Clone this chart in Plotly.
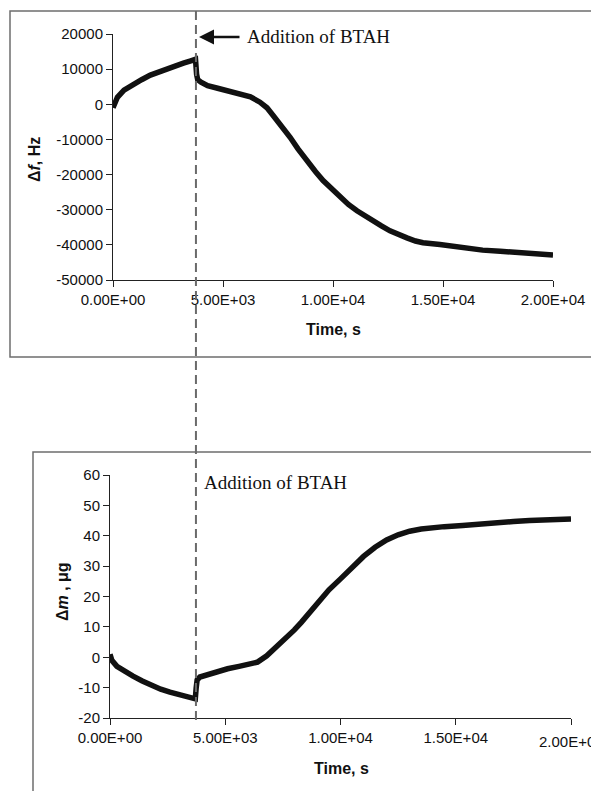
import plotly.graph_objects as go

W, H = 591, 791

t_top = [0, 50, 200, 500, 900, 1300, 1700, 2100, 2500, 2900, 3200, 3500, 3750,
         3800, 3850, 4000, 4300, 4800, 5300, 5800, 6250, 6680, 7000, 7270, 7650,
         8050, 8400, 8800, 9200, 9550, 10000, 10320, 10700, 11090, 11450, 11820,
         12200, 12590, 13000, 13360, 13750, 14090, 14860, 15500, 16100, 16800,
         17600, 18300, 19100, 20000]
df_top = [-1000, 0, 2000, 4000, 5600, 7000, 8300, 9300, 10100, 10900, 11700, 12300, 12800,
          8500, 7000, 6300, 5300, 4500, 3800, 3100, 2100, 600, -1000, -3100, -6000,
          -9400, -12600, -16000, -19100, -21700, -24500, -26500, -28500, -30300, -31800, -33100,
          -34600, -36000, -37200, -38000, -38900, -39400, -39900, -40500, -41100, -41500,
          -41800, -42100, -42500, -42900]

t_bot = [0, 80, 300, 600, 1000, 1400, 1800, 2200, 2600, 3000, 3400, 3700,
         3740, 3780, 3900, 4200, 4600, 5100, 5600, 6100, 6400, 6800, 7200, 7600,
         8000, 8300, 8700, 9100, 9500, 10000, 10500, 11000, 11500, 12000, 12500,
         13000, 13500, 14000, 14500, 15300, 16000, 16800, 17500, 18200, 19000, 20000]
dm_bot = [1, -1, -3, -4.5, -6.2, -7.8, -9.2, -10.5, -11.5, -12.4, -13.1, -13.7,
          -10, -7.5, -6.5, -5.8, -4.8, -3.8, -3.0, -2.3, -1.6, 0.5, 3.2, 6.0,
          9.0, 11.5, 15, 18.8, 22.2, 25.8, 29.8, 33.2, 36.2, 38.6, 40.3,
          41.5, 42.2, 42.7, 43.0, 43.4, 43.9, 44.3, 44.7, 45.0, 45.2, 45.5]

t_add = 3770

x_tickvals = [0, 5000, 10000, 15000, 20000]
x_ticktext = ["0.00E+00", "5.00E+03", "1.00E+04", "1.50E+04", "2.00E+04"]
y_top_ticks = [20000, 10000, 0, -10000, -20000, -30000, -40000, -50000]
y_top_text = ["20000", "10000", "0", "-10000", "-20000", "-30000", "-40000", "-50000"]
y_bot_ticks = [60, 50, 40, 30, 20, 10, 0, -10, -20]
y_bot_text = ["60", "50", "40", "30", "20", "10", "0", "-10", "-20"]


def px(x):
    return x / W


def py(y):
    return 1 - y / H


fig = go.Figure()
fig.add_trace(go.Scatter(x=t_top, y=df_top, mode="lines", xaxis="x", yaxis="y",
                         line=dict(color="#111111", width=5.5), showlegend=False))
fig.add_trace(go.Scatter(x=t_bot, y=dm_bot, mode="lines", xaxis="x2", yaxis="y2",
                         line=dict(color="#111111", width=5.5), showlegend=False))

tickfont = dict(family="Liberation Sans, Arial", size=15, color="#111111")
axcommon = dict(showgrid=False, zeroline=False, showline=True, linecolor="#222222",
                linewidth=1, ticks="outside", ticklen=6, tickcolor="#222222",
                tickfont=tickfont, automargin=False)

fig.update_layout(
    width=W, height=H, margin=dict(l=0, r=0, t=0, b=0, pad=0, autoexpand=False),
    paper_bgcolor="white", plot_bgcolor="white",
    xaxis=dict(domain=[px(113), px(553)], range=[0, 20000], anchor="y",
               tickvals=x_tickvals, ticktext=x_ticktext, **axcommon),
    yaxis=dict(domain=[py(280), py(34)], range=[-50000, 20000], anchor="x",
               tickvals=y_top_ticks, ticktext=y_top_text, **axcommon),
    xaxis2=dict(domain=[px(110), px(571)], range=[0, 20000], anchor="y2",
                tickvals=x_tickvals, ticktext=x_ticktext, **axcommon),
    yaxis2=dict(domain=[py(718), py(475)], range=[-20, 60], anchor="x2",
                tickvals=y_bot_ticks, ticktext=y_bot_text, **axcommon),
)

frame = dict(color="#6e6e6e", width=1.5)
fig.add_shape(type="rect", xref="paper", yref="paper",
              x0=px(10), x1=px(600), y0=py(357), y1=py(11), line=frame, layer="below")
fig.add_shape(type="rect", xref="paper", yref="paper",
              x0=px(33), x1=px(600), y0=py(800), y1=py(452), line=frame, layer="below")
fig.add_shape(type="line", xref="x", yref="paper", x0=t_add, x1=t_add,
              y0=py(11), y1=py(720), line=dict(color="#6a6a6a", width=2, dash="9px,5px"))

titlefont = dict(family="Liberation Sans, Arial", size=16, color="#111111")
serif = dict(family="Liberation Serif, Times New Roman", size=19, color="#111111")
ann = [
    dict(xref="paper", yref="paper", x=px(35), y=py(160), text="<b>Δ<i>f</i>, Hz</b>",
         textangle=-90, showarrow=False, font=titlefont, xanchor="center", yanchor="middle"),
    dict(xref="paper", yref="paper", x=px(333), y=py(329), text="<b>Time, s</b>",
         showarrow=False, font=titlefont, xanchor="center", yanchor="middle"),
    dict(xref="paper", yref="paper", x=px(62), y=py(592), text="<b>Δ<i>m</i> , μg</b>",
         textangle=-90, showarrow=False, font=titlefont, xanchor="center", yanchor="middle"),
    dict(xref="paper", yref="paper", x=px(341), y=py(768), text="<b>Time, s</b>",
         showarrow=False, font=titlefont, xanchor="center", yanchor="middle"),
    dict(xref="paper", yref="paper", x=px(245), y=py(37), text="Addition of BTAH",
         xanchor="left", yanchor="middle", showarrow=False, font=serif),
    dict(xref="paper", yref="paper", x=px(202), y=py(483), text="Addition of BTAH",
         xanchor="left", yanchor="middle", showarrow=False, font=serif),
    dict(xref="paper", yref="paper", x=px(199), y=py(37), text="", showarrow=True,
         ax=42, ay=0, axref="pixel", ayref="pixel", arrowhead=2, arrowsize=1.2,
         arrowwidth=2.5, arrowcolor="#111111"),
    # last bottom tick label, partly cut off by the page edge as in the original
    dict(xref="x2", yref="paper", x=x_tickvals[-1], y=py(741), text=x_ticktext[-1],
         xanchor="center", yanchor="middle", showarrow=False, font=tickfont),
]
fig.update_layout(annotations=ann)

fig.write_html("out.html")
